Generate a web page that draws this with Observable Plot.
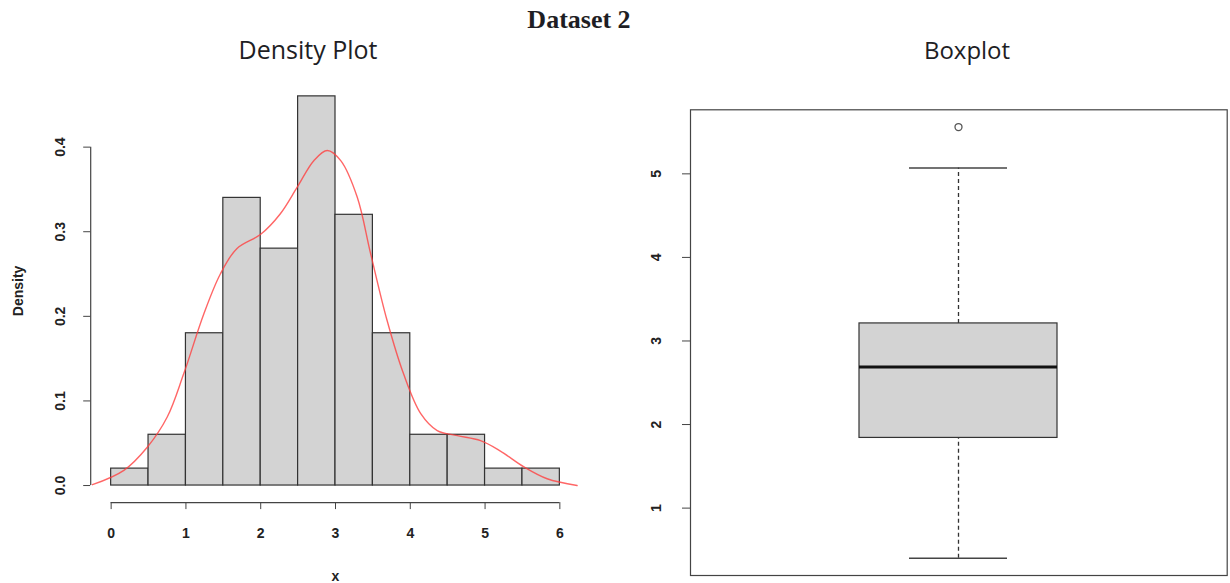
<!DOCTYPE html>
<html>
<head>
<meta charset="utf-8">
<script src="https://cdn.jsdelivr.net/npm/d3@7"></script>
<script src="https://cdn.jsdelivr.net/npm/@observablehq/plot@0.6"></script>
<style>
  html, body { margin: 0; padding: 0; background: #fff; }
  #page { position: relative; width: 1230px; height: 583px; overflow: hidden; background: #fff; }
  .t { position: absolute; white-space: nowrap; line-height: 1; color: #1e1e24; }
  #main { font-family: "Liberation Serif", serif; font-weight: bold; font-size: 26px; left: 579px; top: 6.5px; transform: translateX(-50%); }
  #sub1 { font-family: "Open Sans", sans-serif; font-size: 25px; left: 308px; top: 37px; transform: translateX(-50%); }
  #sub2 { font-family: "Open Sans", sans-serif; font-size: 24px; left: 967px; top: 38px; transform: translateX(-50%); }
  #left { position: absolute; left: 0; top: 70px; }
  #right { position: absolute; left: 610px; top: 70px; }
</style>
</head>
<body>
<div id="page">
  <div class="t" id="main">Dataset 2</div>
  <div class="t" id="sub1">Density Plot</div>
  <div class="t" id="sub2">Boxplot</div>
  <div id="left"></div>
  <div id="right"></div>
</div>
<script>
// ---- Data: histogram (density scale), bin width 0.5
const binStarts = [0, 0.5, 1, 1.5, 2, 2.5, 3, 3.5, 4, 4.5, 5, 5.5];
const binEnds   = [0.5, 1, 1.5, 2, 2.5, 3, 3.5, 4, 4.5, 5, 5.5, 6];
const binDensity = [0.02, 0.06, 0.18, 0.34, 0.28, 0.46, 0.32, 0.18, 0.06, 0.06, 0.02, 0.02];

// ---- Data: kernel density curve
const kdeX = [-0.25, 0.17, 0.48, 0.75, 0.97, 1.24, 1.46, 1.68, 2.0, 2.26, 2.49, 2.71, 2.89, 3.07, 3.29, 3.47, 3.69, 3.91, 4.14, 4.36, 4.63, 4.94, 5.2, 5.52, 5.83, 6.23];
const kdeY = [0.001, 0.018, 0.045, 0.081, 0.132, 0.203, 0.250, 0.280, 0.297, 0.321, 0.353, 0.384, 0.396, 0.384, 0.341, 0.274, 0.195, 0.132, 0.085, 0.065, 0.059, 0.053, 0.041, 0.022, 0.008, 0.0];

// ---- Data: boxplot summary
const boxGroup = ["x"];
const lowerWhisker = [0.40];
const q1 = [1.84];
const median = [2.69];
const q3 = [3.21];
const upperWhisker = [5.07];
const outliers = [5.56];

// ---- Tick labels
const xTicks = [0, 1, 2, 3, 4, 5, 6];
const yTicks = [0, 0.1, 0.2, 0.3, 0.4];
const boxTicks = [1, 2, 3, 4, 5];

// ---- Build tables
const bins = binStarts.map((s, i) => ({x1: s, x2: binEnds[i], density: binDensity[i]}));
const kde = kdeX.map((x, i) => ({x, y: kdeY[i]}));
const box = boxGroup.map((g, i) => ({g, lo: lowerWhisker[i], q1: q1[i], med: median[i], q3: q3[i], hi: upperWhisker[i]}));
const outl = outliers.map(v => ({g: boxGroup[0], v}));

// R-like domains: data range extended by 4%
const ext = (a, b) => { const d = (b - a) * 0.04; return [a - d, b + d]; };
const xDom = ext(binStarts[0], binEnds[binEnds.length - 1]);
const yDom = ext(0, d3.max(binDensity));
const bDom = ext(d3.min(lowerWhisker), d3.max(outliers));

const axisColor = "#444";
const fs = 14;
const fontStyle = {fontFamily: "Liberation Sans, Arial, sans-serif", fontSize: "14px", fontWeight: "bold", color: "#222", background: "#fff"};

const left = Plot.plot({
  width: 610, height: 513,
  marginLeft: 92.7, marginRight: 32.7, marginTop: 10.3, marginBottom: 82.4,
  style: fontStyle,
  x: {domain: xDom},
  y: {domain: yDom},
  marks: [
    Plot.rectY(bins, {x1: "x1", x2: "x2", y1: 0, y2: "density", fill: "#d3d3d3", stroke: "#333", strokeWidth: 1.2}),
    Plot.line(kde, {x: "x", y: "y", stroke: "#ff4040", strokeWidth: 1.4, strokeOpacity: 0.8, curve: "catmull-rom"}),
    Plot.ruleY([yDom[0]], {x1: xTicks[0], x2: xTicks[xTicks.length - 1], stroke: axisColor, strokeWidth: 1.2, dy: 1.5}),
    Plot.ruleX([xDom[0]], {y1: yTicks[0], y2: yTicks[yTicks.length - 1], stroke: axisColor, strokeWidth: 1.2, dx: -2.5}),
    Plot.axisX({ticks: xTicks, tickSize: 7, tickPadding: 18, tickFormat: d => String(d), stroke: axisColor, dy: 1.5, fontSize: fs,
      label: "x", labelAnchor: "center", labelOffset: 80, labelArrow: "none"}),
    Plot.axisY({ticks: yTicks, tickSize: 7, tickRotate: -90, tickPadding: 19, tickFormat: d3.format(".1f"), stroke: axisColor, dx: -2.5, fontSize: fs,
      label: "Density", labelAnchor: "center", labelOffset: 80, labelArrow: "none"})
  ]
});
document.getElementById("left").appendChild(left);

const right = Plot.plot({
  width: 620, height: 513,
  marginLeft: 80, marginRight: 3.3, marginTop: 39.3, marginBottom: 8,
  style: fontStyle,
  x: {domain: boxGroup, padding: 0.46, axis: null},
  y: {domain: bDom},
  marks: [
    Plot.frame({stroke: axisColor, strokeWidth: 1.2}),
    Plot.ruleX(box, {x: "g", y1: "q3", y2: "hi", stroke: "#333", strokeDasharray: "4,3", strokeWidth: 1.3}),
    Plot.ruleX(box, {x: "g", y1: "lo", y2: "q1", stroke: "#333", strokeDasharray: "4,3", strokeWidth: 1.3}),
    Plot.tickY(box, {x: "g", y: "hi", stroke: "#444", strokeWidth: 1.6, insetLeft: 50, insetRight: 50}),
    Plot.tickY(box, {x: "g", y: "lo", stroke: "#444", strokeWidth: 1.6, insetLeft: 50, insetRight: 50}),
    Plot.barY(box, {x: "g", y1: "q1", y2: "q3", fill: "#d3d3d3", stroke: "#333", strokeWidth: 1.2}),
    Plot.tickY(box, {x: "g", y: "med", stroke: "#111", strokeWidth: 3}),
    Plot.dot(outl, {x: "g", y: "v", r: 3.5, stroke: "#555", fill: "#fff", strokeWidth: 1.3}),
    Plot.axisY({ticks: boxTicks, tickSize: 8, tickRotate: -90, tickPadding: 22, tickFormat: d => String(d), stroke: axisColor, fontSize: fs, label: null})
  ]
});
document.getElementById("right").appendChild(right);
</script>
</body>
</html>
